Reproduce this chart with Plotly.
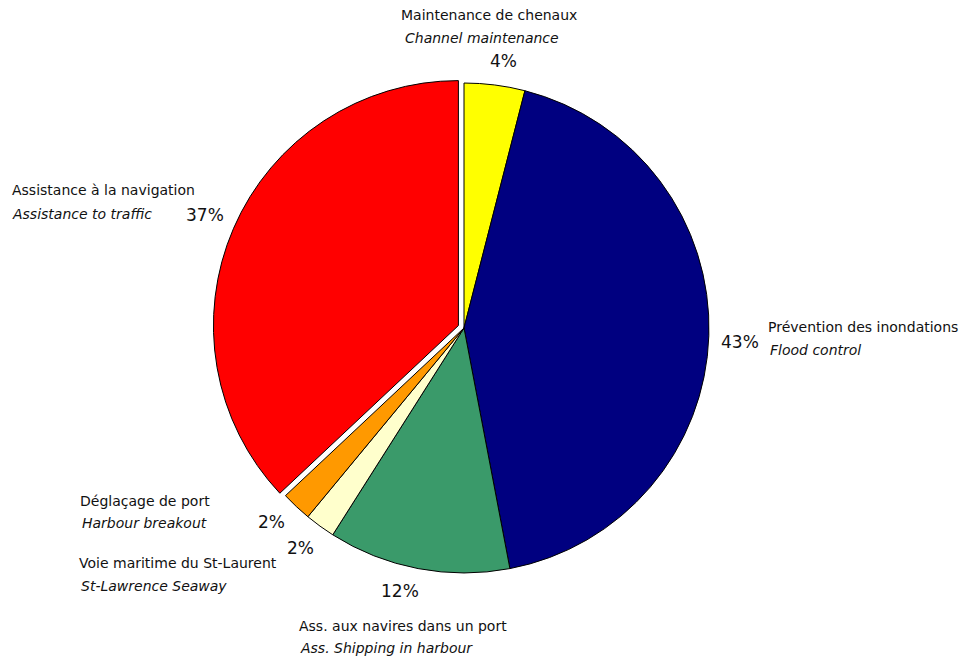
import plotly.graph_objects as go

# Share of activity by service (percent), clockwise from 12 o'clock
labels_fr = ["Maintenance de chenaux", "Prévention des inondations",
             "Ass. aux navires dans un port", "Voie maritime du St-Laurent",
             "Déglaçage de port", "Assistance à la navigation"]
labels_en = ["Channel maintenance", "Flood control",
             "Ass. Shipping in harbour", "St-Lawrence Seaway",
             "Harbour breakout", "Assistance to traffic"]
values = [4, 43, 12, 2, 2, 37]
colors = ["#FFFF00", "#000080", "#3A9A6A", "#FFFFCC", "#FF9900", "#FF0000"]
pulls = [0, 0, 0, 0, 0, 0.025]

W, H = 967, 660
total = sum(values)
pct = [f"{v / total * 100:.0f}%" for v in values]

fig = go.Figure(go.Pie(
    values=values,
    labels=labels_fr,
    marker=dict(colors=colors, line=dict(color="#000000", width=1)),
    pull=pulls,
    sort=False,
    direction="clockwise",
    rotation=0,
    textinfo="none",
    hoverinfo="label+percent",
    showlegend=False,
    domain=dict(x=[0.2202, 0.7395], y=[0.1226, 0.8835]),
))

FONT = "DejaVu Sans, Verdana, sans-serif"


def txt(s, x, y, anchor="left", italic=False, size=14):
    label = f"<i>{s}</i>" if italic else s
    fig.add_annotation(text=label, x=x / W, y=1 - y / H, xref="paper", yref="paper",
                       xanchor=anchor, yanchor="middle", showarrow=False,
                       font=dict(family=FONT, size=size, color="#111111"))


# Channel maintenance
txt(labels_fr[0], 489, 15, "center")
txt(labels_en[0], 482, 38, "center", italic=True)
txt(pct[0], 503, 61, "center", size=17)
# Flood control
txt(labels_fr[1], 766, 327)
txt(labels_en[1], 768, 350, italic=True)
txt(pct[1], 740, 342, "center", size=17)
# Shipping in harbour
txt(pct[2], 400, 591, "center", size=17)
txt(labels_fr[2], 297, 626)
txt(labels_en[2], 298, 648, italic=True)
# Seaway
txt(pct[3], 300, 548, "center", size=17)
txt(labels_fr[3], 77, 563)
txt(labels_en[3], 79, 586, italic=True)
# Harbour breakout
txt(pct[4], 271, 522, "center", size=17)
txt(labels_fr[4], 78, 501)
txt(labels_en[4], 80, 523, italic=True)
# Assistance to traffic
txt(labels_fr[5], 10, 190)
txt(labels_en[5], 10, 214, italic=True)
txt(pct[5], 205, 215, "center", size=17)

fig.update_layout(
    width=W, height=H,
    margin=dict(l=0, r=0, t=0, b=0),
    paper_bgcolor="#FFFFFF",
    plot_bgcolor="#FFFFFF",
)

fig.write_html("out.html")
